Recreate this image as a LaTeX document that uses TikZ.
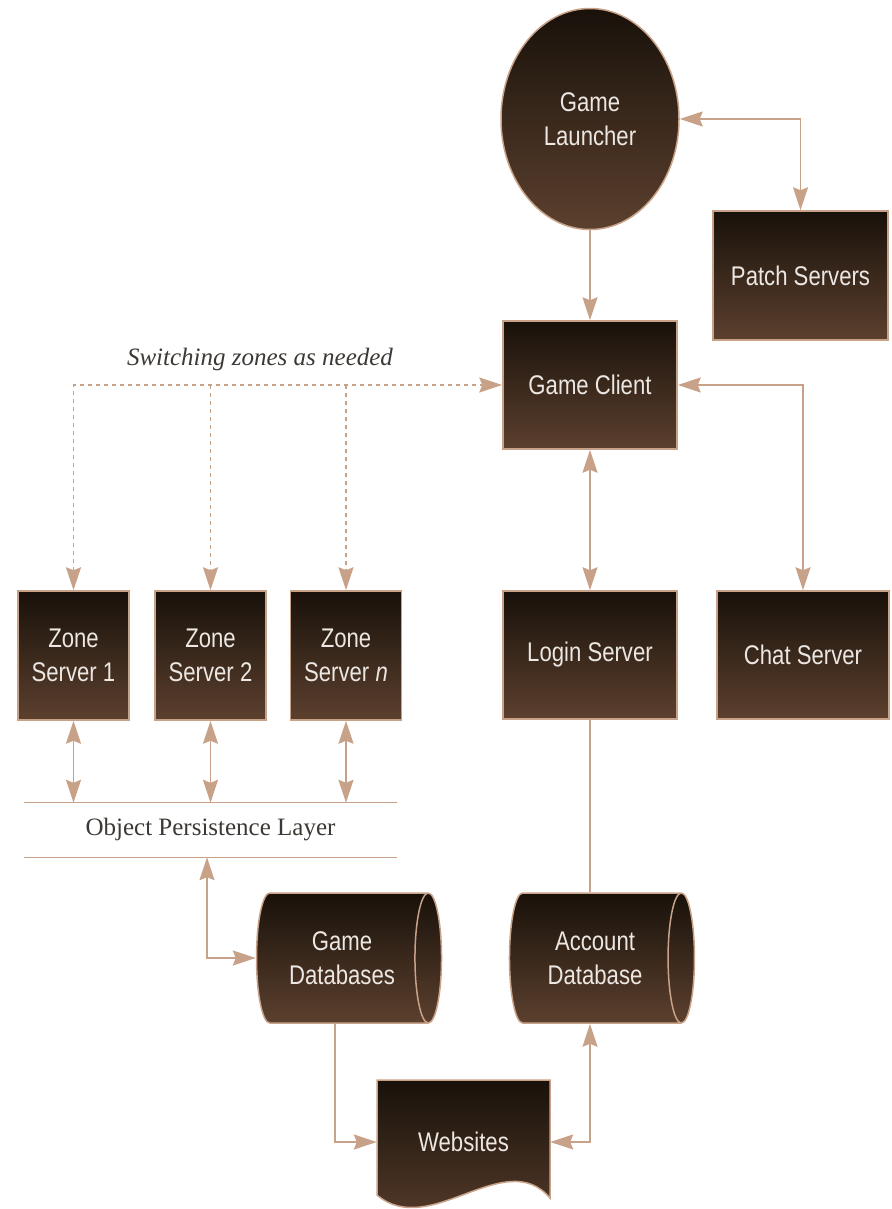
\documentclass[tikz,border=0pt]{standalone}
\usepackage{fontspec}
\setmainfont{Liberation Sans}[FakeStretch=0.82]
\newfontfamily\notefont{Liberation Serif}
\usetikzlibrary{shapes.geometric,arrows.meta,calc}

\definecolor{linetan}{RGB}{200,162,136}
\definecolor{darktop}{RGB}{24,17,10}
\definecolor{darkbot}{RGB}{92,64,46}
\definecolor{paletext}{RGB}{236,231,226}
\definecolor{notegray}{RGB}{60,56,52}

\begin{document}
\begin{tikzpicture}[x=1pt,y=-1pt,
    boxtext/.style={text=paletext, align=center, inner sep=0pt,
      font=\fontsize{27}{34}\selectfont},
    brownbox/.style={boxtext, rectangle, draw=linetan, line width=1.5pt, top color=darktop,
      bottom color=darkbot},
    wire/.style={draw=linetan, line width=1.5pt, -{Stealth[length=23pt,width=15pt,inset=3pt]}},
    bothwire/.style={wire, {Stealth[length=23pt,width=15pt,inset=3pt]}-{Stealth[length=23pt,width=15pt,inset=3pt]}},
    zonewire/.style={wire, dash pattern=on 4pt off 4pt},
    note/.style={text=notegray, font=\notefont\fontsize{25}{30}\selectfont}]
  \useasboundingbox (0,0) rectangle (891,1209);
  % top: launcher, patch servers, client
  \node [brownbox, ellipse, minimum width=178, minimum height=221] (launcher) at (590,119) {Game\\Launcher};
  \node [brownbox, minimum width=175, minimum height=129] (patch) at (800.5,275.5) {Patch Servers};
  \node [brownbox, minimum width=174, minimum height=128] (client) at (590,385) {Game Client};
  % middle row of servers
  \node [brownbox, minimum width=174, minimum height=128] (login) at (590,655) {Login Server};
  \node [brownbox, minimum width=172, minimum height=128] (chat) at (803,655) {Chat Server};
  \node [brownbox, minimum width=111, minimum height=129] (zone1) at (73.5,655.5) {Zone\\Server 1};
  \node [brownbox, minimum width=111, minimum height=129] (zone2) at (210.5,655.5) {Zone\\Server 2};
  \node [brownbox, minimum width=111, minimum height=129] (zonen) at (346,655.5) {Zone\\Server \textit{n}};
  \node [note, font=\notefont\itshape\fontsize{25}{30}\selectfont] (switching) at (260,359) {Switching zones as needed};
  % persistence layer
  \node [note, minimum width=373, minimum height=54, inner sep=0pt] (opl) at (210.5,830) {Object Persistence Layer};
  \draw [linetan, line width=1.2pt] (opl.north west) -- (opl.north east);
  \draw [linetan, line width=1.2pt] (opl.south west) -- (opl.south east);
  % databases
  \node [brownbox, cylinder, shape border rotate=0, aspect=0.5, minimum width=130, minimum height=185] (gamedb) at (342,958) {Game\\Databases};
  \node [brownbox, cylinder, shape border rotate=0, aspect=0.5, minimum width=130, minimum height=185] (acctdb) at (595,958) {Account\\Database};
  % websites, a page with a wavy lower edge
  \shade [top color=darktop, bottom color=darkbot, draw=linetan, line width=1.5pt]
    (377,1080) -- (550,1080) -- (550,1198) .. controls (505,1145) and (430,1240) .. (377,1195) -- cycle;
  \node [boxtext, minimum width=173, minimum height=124] (ws) at (463.5,1142) {Websites};

  % connectors
  \draw [wire] (launcher.south) -- (client.north);
  \draw [bothwire] (launcher.east) -| (patch.north);
  \draw [bothwire] (client.east) -| (chat.north);
  \draw [bothwire] (client.south) -- (login.north);
  \draw [linetan, line width=1.5pt] (login.south) -- (login.south |- acctdb.north);
  \draw [zonewire, {Stealth[length=23pt,width=15pt,inset=3pt]}-{Stealth[length=23pt,width=15pt,inset=3pt]}] (zone1.north) |- (client.west);
  \foreach \z in {zone2,zonen}
    \draw [zonewire] (\z.north |- client.west) -- (\z.north);
  \foreach \z in {zone1,zone2,zonen}
    \draw [bothwire] (\z.south) -- (\z.south |- opl.north);
  \draw [bothwire] ([xshift=-3.5pt]opl.south) |- (gamedb.west);
  \draw [wire] ([xshift=-7pt]gamedb.south) |- (ws.west);
  \draw [bothwire] (ws.east) -| (login.south |- acctdb.south);
\end{tikzpicture}
\end{document}
